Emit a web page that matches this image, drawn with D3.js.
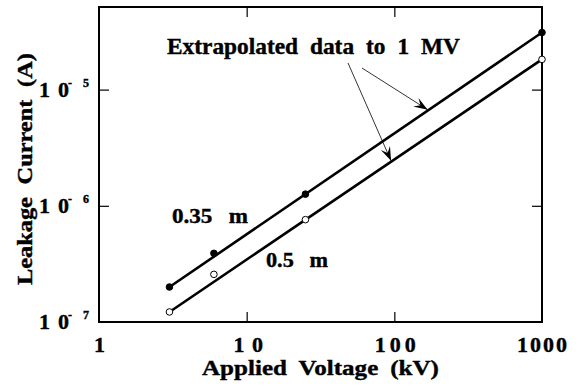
<!DOCTYPE html>
<html>
<head>
<meta charset="utf-8">
<script src="https://cdn.jsdelivr.net/npm/d3@7"></script>
<style>
  body { margin: 0; background: #fff; }
  text { font-family: "Liberation Serif", "Times New Roman", serif; font-weight: bold; fill: #000;
         stroke: #000; stroke-width: 0.4px; }
</style>
</head>
<body>
<div id="chart"></div>
<script>
const voltage = [3, 6, 25, 1000];
const current035 = [2.0e-7, 3.9e-7, 1.26e-6, 3.1e-5];
const current05 = [1.22e-7, 2.57e-7, 7.6e-7, 1.82e-5];
const xTicks = [1, 10, 100, 1000];
const xTickText = ["1", "1 0", "100", "1000"];
const yTicks = [1e-7, 1e-6, 1e-5];
const yExponents = ["7", "6", "5"];

const W = 584, H = 386;
const MARGIN = { TOP: 7, BOTTOM: 64, LEFT: 99, RIGHT: 42 };

const svg = d3.select("#chart").append("svg")
  .attr("width", W).attr("height", H);

const x = d3.scaleLog().domain([1, 1000]).range([MARGIN.LEFT, W - MARGIN.RIGHT]);
const y = d3.scaleLog().domain([1e-7, 5.14e-5]).range([H - MARGIN.BOTTOM, MARGIN.TOP]);

const x0 = x.range()[0], x1 = x.range()[1];
const y0 = y.range()[0], y1 = y.range()[1];

// the scanned lettering is wider than the font: stretch each text
// horizontally (with a little extra word gap) so it spans the given width
function stretchText(str, size, gap, target, place) {
  const t = svg.append("text").attr("font-size", size).attr("word-spacing", gap).text(str);
  const sx = target / t.node().getComputedTextLength();
  t.attr("transform", `${place} scale(${sx},1)`);
  return t;
}

// inward ticks on all four sides
const inner = xTicks.slice(1, -1);
const innerY = yTicks.slice(1);
svg.append("g").call(d3.axisBottom(x).tickValues(inner).tickSize(-10).tickFormat(""))
  .attr("transform", `translate(0,${y0})`);
svg.append("g").call(d3.axisTop(x).tickValues(inner).tickSize(-10).tickFormat(""))
  .attr("transform", `translate(0,${y1})`);
svg.append("g").call(d3.axisLeft(y).tickValues(innerY).tickSize(-10).tickFormat(""))
  .attr("transform", `translate(${x0},0)`);
svg.append("g").call(d3.axisRight(y).tickValues(innerY).tickSize(-10).tickFormat(""))
  .attr("transform", `translate(${x1},0)`);
svg.selectAll(".domain").remove();
svg.selectAll(".tick line").attr("stroke", "#000").attr("stroke-width", 1.2);

// frame
svg.append("rect")
  .attr("x", x0).attr("y", y1)
  .attr("width", x1 - x0).attr("height", y0 - y1)
  .attr("fill", "none").attr("stroke", "#000").attr("stroke-width", 2);

// x tick labels
svg.selectAll(".xlab").data(xTicks).enter().append("text")
  .attr("x", (d, i) => x(d) + (i === 1 ? 2 : i === 2 ? 3 : 1))
  .attr("y", 352)
  .attr("text-anchor", "middle")
  .attr("font-size", 22)
  .attr("letter-spacing", (d, i) => i === 2 ? 4 : i === 3 ? 2 : 1)
  .text((d, i) => xTickText[i]);

// y tick labels: 10^-n, mantissa and exponent as separate texts
const yl = svg.selectAll(".ylab").data(yTicks).enter().append("g")
  .attr("transform", d => `translate(0,${y(d) + 7})`);
yl.append("text").attr("x", 39).attr("font-size", 22)
  .attr("textLength", 30).attr("lengthAdjust", "spacing").text("10");
yl.append("text").attr("x", 68).attr("y", -10).attr("font-size", 12).text("-");
yl.append("text").attr("x", 83).attr("y", -10).attr("font-size", 12)
  .text((d, i) => yExponents[i]);

// axis titles
stretchText("Applied Voltage (kV)", 22, 5, 237, "translate(202,375)");
stretchText("Leakage Current (A)", 22, 6, 232, "translate(32,285) rotate(-90)");

// data lines (straight fit through end points)
const line = d3.line().x(d => x(d[0])).y(d => y(d[1]));
const series = [
  { v: current035, filled: true },
  { v: current05, filled: false }
];
series.forEach(s => {
  const pts = voltage.map((v, i) => [v, s.v[i]]);
  svg.append("path")
    .attr("d", line([pts[0], pts[pts.length - 1]]))
    .attr("fill", "none").attr("stroke", "#000").attr("stroke-width", 2.6);
  svg.selectAll(null).data(pts).enter().append("circle")
    .attr("cx", d => x(d[0])).attr("cy", d => y(d[1]))
    .attr("r", 3.3)
    .attr("fill", s.filled ? "#000" : "#fff")
    .attr("stroke", "#000").attr("stroke-width", 1);
});

// labels (the micro sign is lost in the original, leaving a wide gap)
stretchText("0.35 m", 22, 10, 76, "translate(172,223)");
stretchText("0.5 m", 22, 10, 62, "translate(266,267)");

stretchText("Extrapolated data to 1 MV", 23, 6, 293, "translate(167,54)");

// arrows pointing onto the extrapolated lines
const interp = (arr, v) => {
  const n = arr.length - 1;
  const t = (Math.log10(v) - Math.log10(voltage[0])) / (Math.log10(voltage[n]) - Math.log10(voltage[0]));
  return Math.pow(10, Math.log10(arr[0]) + t * (Math.log10(arr[n]) - Math.log10(arr[0])));
};
const arrows = [
  { from: [348, 63], v: 95, arr: current05 },
  { from: [362, 68], v: 168, arr: current035 }
];
arrows.forEach(a => {
  const tx = x(a.v), ty = y(interp(a.arr, a.v)) - 1;
  const [fx, fy] = a.from;
  svg.append("line").attr("x1", fx).attr("y1", fy).attr("x2", tx).attr("y2", ty)
    .attr("stroke", "#000").attr("stroke-width", 0.8);
  const ang = Math.atan2(ty - fy, tx - fx);
  const L = 14, Wd = 5;
  const bx = tx - L * Math.cos(ang), by = ty - L * Math.sin(ang);
  const mx = tx - L * 0.6 * Math.cos(ang), my = ty - L * 0.6 * Math.sin(ang);
  const px = -Math.sin(ang) * Wd, py = Math.cos(ang) * Wd;
  svg.append("path")
    .attr("d", `M${tx},${ty} L${bx + px},${by + py} L${mx},${my} L${bx - px},${by - py} Z`)
    .attr("fill", "#000");
});
</script>
</body>
</html>
